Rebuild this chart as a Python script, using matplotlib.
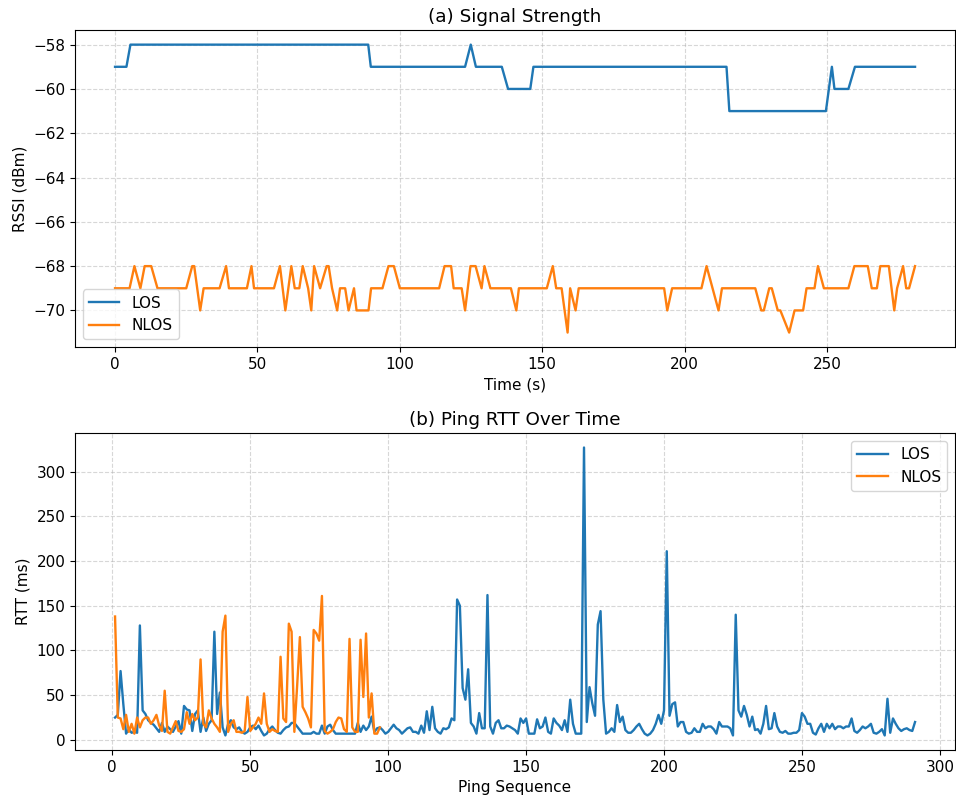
import matplotlib
matplotlib.use("Agg")
import matplotlib.pyplot as plt
import numpy as np

# ---- (a) Signal strength: polyline vertices ----
los_t = [0, 4, 5.4, 88.9, 89.8, 122.9, 124.9, 126.7, 135.8, 138.0, 145.8, 146.9,
         214.7, 215.7, 249.6, 251.7, 252.6, 257.5, 259.8, 280.9]
los_rssi = [-59, -59, -58, -58, -59, -59, -58, -59, -59, -60, -60, -59,
            -59, -61, -61, -59, -60, -60, -59, -59]

nlos_t = [0, 5.1, 6.8, 8.9, 10.4, 12.7, 14.9, 25.0, 27.1, 27.8, 29.9, 31.1, 36.7, 39.0,
          40.0, 46.3, 47.9, 48.8, 55.8, 57.9, 59.8, 61.9, 63.1, 64.7, 65.9, 67.8, 68.9,
          69.9, 72.0, 74.3, 75.0, 76.2, 78.0, 79.0, 80.8, 82.0, 83.9, 84.8, 89.0, 89.9,
          93.9, 96.0, 97.9, 100.0, 113.8, 115.7, 118.0, 118.9, 121.7, 122.9, 124.8, 126.6,
          128.7, 129.7, 131.8, 139.0, 140.9, 141.8, 151.6, 153.7, 154.9, 156.8, 158.9,
          159.8, 161.7, 162.8, 192.8, 193.9, 195.6, 205.9, 207.7, 211.9, 213.1, 224.8,
          226.9, 227.8, 229.7, 230.6, 232.7, 233.6, 236.7, 238.6, 241.6, 242.8, 245.6,
          246.8, 248.9, 257.5, 259.6, 264.3, 265.7, 267.5, 268.7, 271.7, 273.6, 274.6,
          276.7, 277.8, 278.8, 280.9]
nlos_rssi = [-69, -69, -68, -69, -68, -68, -69, -69, -68, -68, -70, -69, -69, -68,
             -69, -69, -68, -69, -69, -68, -70, -68, -69, -69, -68, -69, -70,
             -68, -69, -68, -68, -69, -70, -69, -69, -70, -69, -70, -70, -69,
             -69, -68, -68, -69, -69, -68, -68, -69, -69, -70, -68, -68,
             -69, -68, -69, -69, -70, -69, -69, -68, -69, -69, -71,
             -69, -70, -69, -69, -70, -69, -69, -68, -70, -69, -69,
             -70, -70, -69, -69, -70, -70, -71, -70, -70, -69, -69,
             -68, -69, -69, -68, -68, -69, -69, -68, -68, -70, -69,
             -68, -69, -69, -68]

# ---- (b) Ping RTT per ping sequence ----
los_rtt = [25, 28, 77, 40, 7, 12, 8, 9, 8,
           128, 33, 29, 22, 19, 17, 13, 9, 19, 9,
           15, 12, 9, 15, 21, 7, 38, 34, 33, 10,
           29, 33, 9, 25, 10, 18, 22, 121, 29, 53,
           14, 5, 18, 22, 14, 12, 14, 9, 7, 9,
           14, 16, 12, 16, 10, 5, 7, 12, 15, 11,
           8, 7, 11, 14, 15, 19, 19, 15, 11, 7,
           7, 7, 7, 9, 7, 7, 16, 7, 15, 17,
           11, 7, 7, 7, 7, 7, 7, 7, 7, 19,
           9, 16, 11, 15, 26, 9, 13, 14, 11, 7,
           9, 13, 17, 13, 11, 7, 10, 13, 14, 9,
           9, 7, 16, 8, 32, 11, 37, 13, 9, 7,
           13, 12, 14, 24, 22, 157, 150, 58, 45, 79,
           19, 15, 7, 30, 13, 13, 162, 15, 7, 19,
           22, 13, 13, 16, 15, 13, 11, 7, 24, 19,
           24, 7, 7, 7, 23, 13, 15, 25, 9, 7,
           24, 19, 16, 11, 22, 9, 45, 18, 7, 7,
           7, 327, 20, 59, 41, 27, 129, 144, 45, 7,
           9, 13, 9, 39, 20, 26, 11, 8, 8, 11,
           15, 18, 12, 7, 5, 7, 11, 18, 28, 18,
           33, 211, 27, 40, 42, 15, 20, 20, 9, 7,
           8, 13, 9, 9, 18, 13, 15, 15, 12, 7,
           20, 15, 15, 15, 13, 5, 140, 33, 26, 38,
           28, 15, 26, 11, 12, 7, 18, 38, 12, 13,
           30, 15, 9, 8, 10, 7, 7, 8, 8, 11,
           30, 26, 18, 18, 8, 6, 13, 18, 9, 18,
           13, 18, 12, 15, 15, 13, 15, 15, 24, 10,
           8, 11, 15, 13, 15, 18, 8, 7, 9, 12,
           5, 46, 8, 24, 18, 13, 10, 12, 13, 11,
           10, 20]
nlos_rtt = [138, 25, 24, 12, 28, 9, 18, 7, 25, 14,
            22, 25, 25, 18, 22, 28, 16, 10, 55, 9,
            7, 14, 21, 10, 9, 12, 31, 18, 29, 22,
            25, 90, 18, 14, 33, 24, 18, 14, 9, 121,
            139, 9, 18, 22, 9, 9, 8, 10, 48, 10,
            14, 18, 25, 18, 52, 18, 9, 12, 10, 9,
            93, 24, 20, 130, 121, 9, 60, 115, 37, 31,
            24, 14, 123, 119, 111, 161, 10, 7, 9, 12,
            20, 25, 24, 12, 9, 113, 14, 9, 9, 112,
            48, 119, 25, 52, 7, 7, 14]

los_seq = np.arange(1, len(los_rtt) + 1)
nlos_seq = np.arange(1, len(nlos_rtt) + 1)

plt.rcParams["font.size"] = 11

fig, (ax1, ax2) = plt.subplots(2, 1, figsize=(9.56, 7.96), dpi=100)
fig.subplots_adjust(left=0.0785, right=0.999, top=0.962, bottom=0.058, hspace=0.272)

ax1.plot(los_t, los_rssi, label="LOS", linewidth=1.7)
ax1.plot(nlos_t, nlos_rssi, label="NLOS", linewidth=1.7)
ax1.set_title("(a) Signal Strength")
ax1.set_xlabel("Time (s)")
ax1.set_ylabel("RSSI (dBm)")
ax1.grid(True, linestyle="--", alpha=0.5)
ax1.legend(loc="lower left")

ax2.plot(los_seq, los_rtt, label="LOS", linewidth=1.7)
ax2.plot(nlos_seq, nlos_rtt, label="NLOS", linewidth=1.7)
ax2.set_title("(b) Ping RTT Over Time")
ax2.set_xlabel("Ping Sequence")
ax2.set_ylabel("RTT (ms)")
ax2.grid(True, linestyle="--", alpha=0.5)
ax2.legend(loc="upper right")

fig.savefig("out.png", dpi=100)
